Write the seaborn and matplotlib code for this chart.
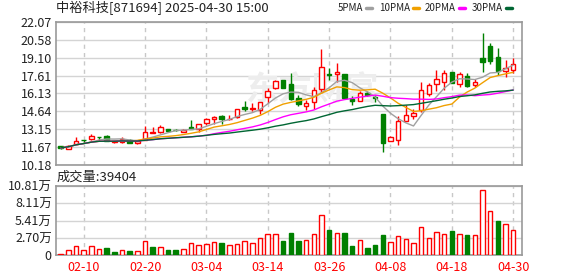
import numpy as np
import pandas as pd
import matplotlib
matplotlib.use("Agg")
import matplotlib.pyplot as plt
import seaborn as sns

# ---------------- data ----------------
dates = ["02-05", "02-06", "02-07", "02-10", "02-11", "02-12", "02-13", "02-14",
         "02-17", "02-18", "02-19", "02-20", "02-21", "02-24", "02-25", "02-26",
         "02-27", "02-28", "03-03", "03-04", "03-05", "03-06", "03-07", "03-10",
         "03-11", "03-12", "03-13", "03-14", "03-17", "03-18", "03-19", "03-20",
         "03-21", "03-24", "03-25", "03-26", "03-27", "03-28", "03-31", "04-01",
         "04-02", "04-03", "04-07", "04-08", "04-09", "04-10", "04-11", "04-14",
         "04-15", "04-16", "04-17", "04-18", "04-21", "04-22", "04-23", "04-24",
         "04-25", "04-28", "04-29", "04-30"]

open_ = [11.72, 11.55, 11.95, 12.30, 12.37, 12.52, 12.55, 12.12, 12.07, 12.30,
         12.00, 12.27, 12.85, 12.92, 13.15, 13.12, 12.92, 13.35, 13.18, 13.65,
         14.00, 14.25, 13.98, 14.20, 15.03, 14.85, 14.78, 15.87, 16.55, 17.25,
         16.95, 15.75, 15.12, 15.45, 16.50, 17.74, 17.72, 17.73, 15.65, 15.50,
         16.18, 15.85, 14.42, 12.20, 12.30, 13.87, 14.25, 14.75, 16.05, 16.95,
         17.10, 17.92, 16.95, 17.58, 16.82, 19.10, 20.07, 19.15, 17.97, 18.05]
high = [11.80, 11.88, 12.48, 12.30, 12.75, 12.54, 12.65, 12.20, 12.52, 12.35,
        12.30, 13.42, 13.30, 13.50, 13.20, 13.20, 13.17, 13.92, 13.62, 14.05,
        14.25, 14.36, 14.30, 14.85, 15.47, 15.30, 15.45, 16.60, 17.25, 17.28,
        17.85, 15.98, 15.60, 16.70, 19.83, 18.22, 18.66, 17.75, 15.95, 16.35,
        16.36, 16.00, 14.45, 12.55, 14.25, 15.14, 14.80, 17.08, 17.00, 18.05,
        18.05, 17.95, 17.95, 17.85, 17.30, 21.18, 20.35, 19.90, 18.88, 19.05]
low = [11.50, 11.48, 11.95, 12.05, 12.28, 12.15, 12.15, 12.00, 12.05, 12.00,
       11.95, 12.25, 12.85, 12.88, 12.90, 12.98, 12.90, 13.15, 12.95, 13.48,
       13.56, 13.60, 13.95, 14.05, 14.70, 14.68, 14.42, 15.35, 16.50, 16.58,
       15.55, 15.10, 14.75, 14.85, 16.20, 17.25, 17.10, 15.75, 15.20, 15.48,
       15.92, 15.45, 11.23, 12.15, 11.85, 13.85, 14.03, 14.60, 15.95, 16.30,
       16.40, 17.00, 16.65, 16.70, 16.65, 17.90, 18.60, 17.65, 17.50, 17.80]
close = [11.60, 11.80, 12.18, 12.28, 12.55, 12.50, 12.20, 12.15, 12.38, 12.05,
         12.20, 12.95, 12.92, 13.30, 12.97, 13.08, 13.12, 13.20, 13.58, 14.00,
         14.20, 14.03, 14.02, 14.80, 14.87, 14.95, 15.38, 16.35, 17.20, 16.62,
         15.67, 15.27, 15.30, 16.45, 18.30, 17.70, 17.88, 15.78, 15.50, 16.13,
         16.00, 15.78, 11.98, 12.52, 13.85, 14.30, 14.48, 16.38, 16.80, 17.33,
         17.82, 17.02, 17.77, 16.72, 17.10, 18.78, 18.80, 17.98, 18.25, 18.60]

volume = [2100, 7400, 13700, 7400, 13700, 9500, 11100, 4700, 7400, 6300,
          5800, 21600, 12700, 12100, 7900, 7900, 9500, 18500, 15800, 17400,
          20000, 19000, 15300, 16900, 21600, 18500, 26400, 32700, 32700, 22200,
          34800, 22200, 23700, 32700, 62800, 39600, 34300, 34300, 14200, 23200,
          11100, 15800, 31600, 20000, 29500, 24800, 18500, 43800, 26400, 35900,
          32700, 38000, 32700, 31600, 31100, 101300, 69100, 53800, 48500, 39404]
# 1 = red (up) volume bar, 0 = green (down) volume bar
vol_up = [1, 1, 1, 1, 1, 1, 0, 0, 1, 0, 1, 1, 0, 1, 0, 0, 1, 1, 1, 1,
          1, 0, 1, 1, 1, 1, 1, 1, 1, 0, 0, 0, 1, 1, 1, 0, 1, 0, 0, 1,
          0, 0, 0, 1, 1, 1, 1, 1, 1, 1, 1, 0, 1, 0, 1, 1, 1, 0, 1, 1]

ma_windows = [5, 10, 20, 30]
ma_labels = ["5PMA", "10PMA", "20PMA", "30PMA"]

price_ticks = [10.18, 11.67, 13.15, 14.64, 16.13, 17.61, 19.10, 20.58, 22.07]
price_ticklabels = ["10.18", "11.67", "13.15", "14.64", "16.13", "17.61", "19.10", "20.58", "22.07"]
vol_ticks = [0, 27025, 54050, 81075, 108100]
vol_ticklabels = ["0", "2.70万", "5.41万", "8.11万", "10.81万"]
xtick_labels = ["02-10", "02-20", "03-04", "03-14", "03-26", "04-08", "04-18", "04-30"]

title_text = "中裕科技[871694] 2025-04-30 15:00"
vol_title = "成交量:39404"

# ---------------- styling ----------------
sns.set_style("white")
plt.rcParams["font.family"] = ["Noto Sans CJK SC", "DejaVu Sans"]

RED = "#FF0000"
GREEN = "#008000"
MA_COLORS = ["#A0A0A0", "#F0A000", "#FF00FF", "#006633"]
GRID = "#D4D4D4"
SPINE = "#999999"

W, H = 578, 276
fig = plt.figure(figsize=(W / 100, H / 100), dpi=100)
ax = fig.add_axes([56 / W, 1 - 165 / H, 466 / W, 143 / H])
axv = fig.add_axes([56 / W, 1 - 255 / H, 466 / W, 69 / H])

n = len(dates)
x = np.arange(n)
o = np.array(open_); c = np.array(close); hi = np.array(high); lo = np.array(low)
up = c >= o
ccol = np.where(up, RED, GREEN)

# candles
ax.vlines(x, lo, hi, colors=ccol, linewidth=1, zorder=2)
bottom = np.minimum(o, c)
height = np.maximum(np.abs(c - o), 0.015)
ax.bar(x, height, bottom=bottom, width=0.6,
       facecolor=np.where(up, "white", GREEN), edgecolor=ccol,
       linewidth=1, zorder=3)

# moving averages
df = pd.DataFrame({"idx": x, "close": c})
for w, lab, col in zip(ma_windows, ma_labels, MA_COLORS):
    df[lab] = df["close"].rolling(w, min_periods=1).mean()
    sns.lineplot(data=df, x="idx", y=lab, ax=ax, color=col, linewidth=1,
                 zorder=4, legend=False)

# volume
vu = np.array(vol_up).astype(bool)
axv.bar(x, volume, width=0.6, facecolor=np.where(vu, "white", GREEN),
        edgecolor=np.where(vu, RED, GREEN), linewidth=1, zorder=3)

tick_idx = [dates.index(d) for d in xtick_labels]
for a in (ax, axv):
    a.set_xlim(-0.62, 60.15)
    a.set_xticks(tick_idx)
    a.set_xlabel(""); a.set_ylabel("")
    a.grid(False)
    a.yaxis.grid(True, color=GRID, linewidth=1, zorder=0)
    a.xaxis.grid(True, color="#C8C8C8", linewidth=1, linestyle=(0, (3, 3)), zorder=0)
    a.set_axisbelow(True)
    for s in a.spines.values():
        s.set_color(SPINE)
        s.set_linewidth(1.2)
    a.tick_params(axis="both", length=0, labelsize=9, colors="#222222")

ax.set_ylim(10.18, 22.07)
ax.set_yticks(price_ticks)
ax.set_yticklabels(price_ticklabels)
ax.set_xticklabels([])
ax.tick_params(axis="y", pad=3)

axv.set_ylim(0, 108100)
axv.set_yticks(vol_ticks)
axv.set_yticklabels(vol_ticklabels)
axv.set_xticklabels(xtick_labels, color=RED)
axv.tick_params(axis="x", pad=4, labelcolor=RED)
axv.tick_params(axis="y", pad=3)

# watermark
ax.text(0.55, 0.52, "东方财富", transform=ax.transAxes, fontsize=24,
        color="#EDEDED", ha="center", va="center", fontweight="bold", zorder=1)

# texts
fig.text(56 / W, 1 - 8 / H, title_text, fontsize=9.5, color="#222222",
         ha="left", va="center")
fig.text(57 / W, 1 - 177 / H, vol_title, fontsize=9.5, color="#222222",
         ha="left", va="center")

# legend (text + short coloured dash)
dash_x = [366, 413, 459, 506]
for lab, col, dx in zip(ma_labels, MA_COLORS, dash_x):
    fig.text((dx - 3) / W, 1 - 8 / H, lab, fontsize=7, color="#222222",
             ha="right", va="center")
    fig.add_artist(plt.Line2D([dx / W, (dx + 6) / W], [1 - 8 / H, 1 - 8 / H],
                              color=col, linewidth=2.5, transform=fig.transFigure))

fig.savefig("out.png", dpi=100)
